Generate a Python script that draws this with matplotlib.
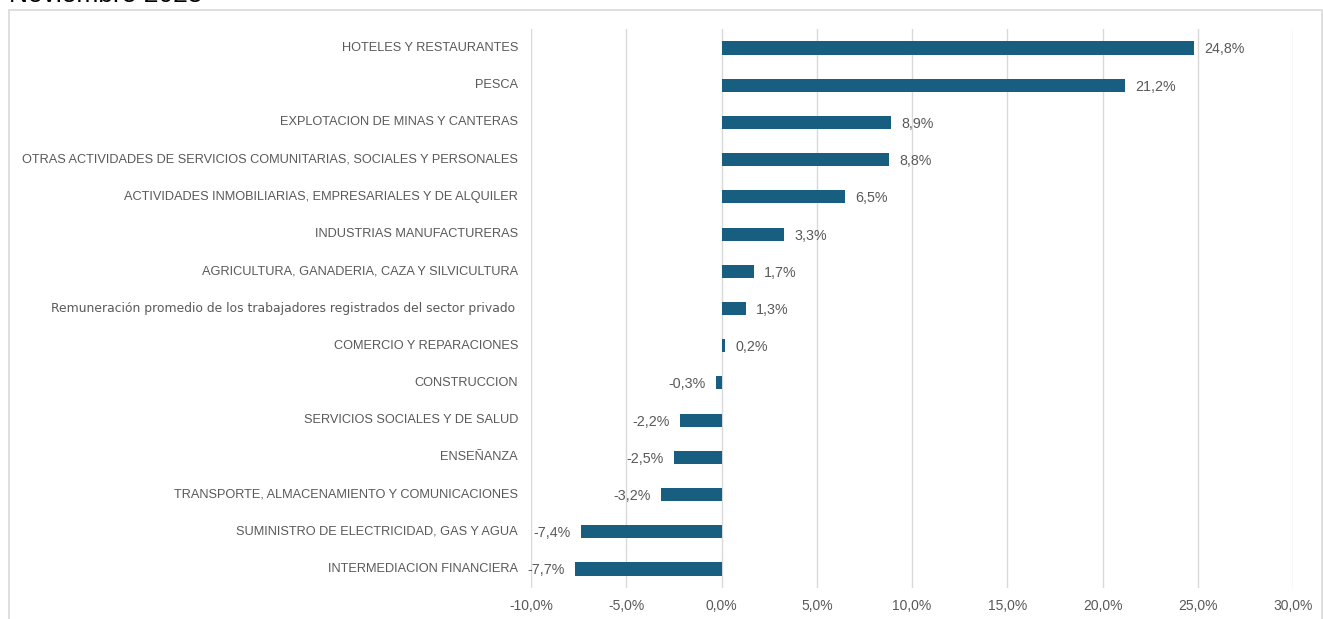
import matplotlib
matplotlib.use("Agg")
import matplotlib.pyplot as plt
from matplotlib.patches import Rectangle

categories = [
    "HOTELES Y RESTAURANTES",
    "PESCA",
    "EXPLOTACION DE MINAS Y CANTERAS",
    "OTRAS ACTIVIDADES DE SERVICIOS COMUNITARIAS, SOCIALES Y PERSONALES",
    "ACTIVIDADES INMOBILIARIAS, EMPRESARIALES Y DE ALQUILER",
    "INDUSTRIAS MANUFACTURERAS",
    "AGRICULTURA, GANADERIA, CAZA Y SILVICULTURA",
    "Remuneración promedio de los trabajadores registrados del sector privado",
    "COMERCIO Y REPARACIONES",
    "CONSTRUCCION",
    "SERVICIOS SOCIALES Y DE SALUD",
    "ENSEÑANZA",
    "TRANSPORTE, ALMACENAMIENTO Y COMUNICACIONES",
    "SUMINISTRO DE ELECTRICIDAD, GAS Y AGUA",
    "INTERMEDIACION FINANCIERA",
]
values = [24.8, 21.2, 8.9, 8.8, 6.5, 3.3, 1.7, 1.3, 0.2, -0.3, -2.2, -2.5, -3.2, -7.4, -7.7]
xticks = [-10, -5, 0, 5, 10, 15, 20, 25, 30]
title = "Noviembre 2025"

BAR = "#175e80"
GRAY = "#595959"
GRID = "#d9d9d9"
SANS = ["Liberation Sans", "DejaVu Sans"]

W, H = 1323, 619
fig = plt.figure(figsize=(W / 100, H / 100), dpi=100)

# outer chart frame
fig.patches.append(Rectangle((9 / W, -0.05), (1322 - 9) / W, 1 - 10 / H + 0.05,
                             transform=fig.transFigure, fill=False,
                             edgecolor=GRID, linewidth=1.2))
fig.text(9 / W, 1 - 2 / H, title, fontsize=19, color="#000000",
         va="baseline", ha="left", family=SANS)

ax = fig.add_axes([531 / W, 1 - 587.6 / H, (1293 - 531) / W, (587.6 - 29.4) / H])
n = len(categories)
ypos = list(range(n))
ax.barh(ypos, values, height=0.35, color=BAR, zorder=3)
ax.set_ylim(n - 0.5, -0.5)
ax.set_xlim(-10, 30)
ax.set_xticks(xticks)
ax.set_xticklabels([f"{t:.1f}%".replace(".", ",") for t in xticks],
                   fontsize=10, color=GRAY, family=SANS)
ax.tick_params(axis="x", length=0, pad=8)
ax.set_yticks([])
ax.grid(axis="x", color=GRID, linewidth=1, zorder=0)
for s in ax.spines.values():
    s.set_visible(False)

for y, (cat, v) in enumerate(zip(categories, values)):
    if cat.startswith("Remuneración"):
        ax.text(-10.85, y, cat, ha="right", va="center", fontsize=8.9,
                color=GRAY, family=["DejaVu Sans"])
    else:
        ax.text(-10.68, y, cat, ha="right", va="center", fontsize=9.2,
                color=GRAY, family=SANS)
    lab = f"{v:.1f}%".replace(".", ",")
    if v >= 0:
        ax.text(v + 0.52, y + 0.04, lab, ha="left", va="center",
                fontsize=10.3, color=GRAY, family=SANS)
    else:
        ax.text(v - 0.52, y + 0.04, lab, ha="right", va="center",
                fontsize=10.3, color=GRAY, family=SANS)

fig.savefig("out.png", dpi=100)
